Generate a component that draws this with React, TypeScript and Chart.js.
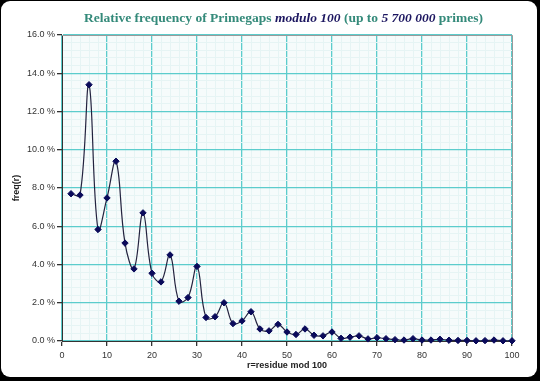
import React, { useEffect, useRef } from "react";
import { Chart, registerables } from "chart.js";

Chart.register(...registerables);

const residues = [
  2, 4, 6, 8, 10, 12, 14, 16, 18, 20, 22, 24, 26, 28, 30, 32, 34, 36, 38, 40,
  42, 44, 46, 48, 50, 52, 54, 56, 58, 60, 62, 64, 66, 68, 70, 72, 74, 76, 78, 80,
  82, 84, 86, 88, 90, 92, 94, 96, 98, 100,
];
const freqPercent = [
  7.7, 7.63, 13.4, 5.83, 7.48, 9.4, 5.12, 3.77, 6.7, 3.54, 3.09, 4.5, 2.08, 2.27, 3.9, 1.23, 1.27, 2.0, 0.91, 1.05,
  1.53, 0.63, 0.53, 0.87, 0.47, 0.34, 0.63, 0.3, 0.27, 0.47, 0.14, 0.2, 0.27, 0.11, 0.17, 0.12, 0.07, 0.05, 0.12, 0.05,
  0.05, 0.09, 0.04, 0.03, 0.03, 0.01, 0.02, 0.05, 0.01, 0.01,
];
const xMin = 0;
const xMax = 100;
const xMajorStep = 10;
const xMinorStep = 2;
const yMin = 0;
const yMax = 16;
const yMajorStep = 2;
const yMinorStep = 0.4;
const xAxisTitle = "r=residue mod 100";
const yAxisTitle = "freq(r)";

const isMajor = (v: number, step: number) => Math.abs(v / step - Math.round(v / step)) < 1e-6;

export default function App() {
  const ref = useRef<HTMLCanvasElement>(null);

  useEffect(() => {
    document.body.style.margin = "0";
    document.body.style.background = "#000";
    const canvas = ref.current;
    if (!canvas) return;

    const plotBg = {
      id: "plotBg",
      beforeDraw(chart: any) {
        const { ctx, chartArea } = chart;
        const { left, top, right, bottom } = chartArea;
        ctx.save();
        ctx.fillStyle = "#f6fbfb";
        ctx.fillRect(left, top, right - left, bottom - top);
        ctx.restore();
      },
      beforeDatasetsDraw(chart: any) {
        const { ctx, chartArea } = chart;
        const { left, top, right, bottom } = chartArea;
        ctx.save();
        ctx.strokeStyle = "#9a9a9a";
        ctx.lineWidth = 1;
        ctx.beginPath();
        ctx.moveTo(left, top + 0.5);
        ctx.lineTo(right + 0.5, top + 0.5);
        ctx.lineTo(right + 0.5, bottom);
        ctx.stroke();
        ctx.restore();
      },
    };

    const tickFont = { family: "'Liberation Sans', Arial, sans-serif", size: 9 };
    const titleFont = { family: "'Liberation Sans', Arial, sans-serif", size: 9, weight: "bold" as const };

    const chart = new Chart(canvas, {
      type: "line",
      data: {
        datasets: [
          {
            data: residues.map((r, i) => ({ x: r, y: freqPercent[i] })),
            borderColor: "#23233f",
            borderWidth: 1.2,
            backgroundColor: "#0a0a5a",
            pointBackgroundColor: "#0a0a5a",
            pointBorderColor: "#0a0a5a",
            pointStyle: "rectRot",
            pointRadius: 3.2,
            pointBorderWidth: 1,
            tension: 0.4,
            clip: false as any,
            fill: false,
          },
        ],
      },
      plugins: [plotBg],
      options: {
        animation: false,
        responsive: false,
        events: [],
        layout: { padding: { top: 35, right: 28, bottom: 0, left: 0 } },
        plugins: { legend: { display: false }, tooltip: { enabled: false }, title: { display: false } },
        scales: {
          x: {
            type: "linear",
            min: xMin,
            max: xMax,
            afterFit: (s: any) => {
              s.height = 40;
            },
            border: { color: "#333", width: 1 },
            grid: {
              color: (c: any) => (isMajor(c.tick?.value ?? 0, xMajorStep) ? "#5ccccc" : "#e6f4f4"),
              lineWidth: (c: any) => (isMajor(c.tick?.value ?? 0, xMajorStep) ? 1.3 : 1),
              tickColor: (c: any) => (isMajor(c.tick?.value ?? 0, xMajorStep) ? "#333" : "rgba(0,0,0,0)"),
              tickLength: 5,
            },
            ticks: {
              stepSize: xMinorStep,
              autoSkip: false,
              maxRotation: 0,
              padding: 4,
              color: "#333",
              font: tickFont,
              callback: (v: any) => (isMajor(Number(v), xMajorStep) ? String(v) : ""),
            },
            title: {
              display: true,
              text: xAxisTitle,
              color: "#222",
              font: titleFont,
              padding: { top: 0, bottom: 10 },
            },
          },
          y: {
            type: "linear",
            min: yMin,
            max: yMax,
            afterFit: (s: any) => {
              s.width = 62;
            },
            border: { color: "#333", width: 1 },
            grid: {
              color: (c: any) => (isMajor(c.tick?.value ?? 0, yMajorStep) ? "#5ccccc" : "#e6f4f4"),
              lineWidth: (c: any) => (isMajor(c.tick?.value ?? 0, yMajorStep) ? 1.3 : 1),
              tickColor: (c: any) => (isMajor(c.tick?.value ?? 0, yMajorStep) ? "#333" : "rgba(0,0,0,0)"),
              tickLength: 5,
            },
            ticks: {
              stepSize: yMinorStep,
              autoSkip: false,
              padding: 2,
              color: "#333",
              font: tickFont,
              callback: (v: any) => (isMajor(Number(v), yMajorStep) ? Number(v).toFixed(1) + " %" : ""),
            },
            title: {
              display: true,
              text: yAxisTitle,
              color: "#222",
              font: titleFont,
              padding: { top: 11, bottom: 0 },
            },
          },
        },
      },
    });
    return () => chart.destroy();
  }, []);

  const teal = "#348a7a";
  const navy = "#1c1660";
  return (
    <div style={{ position: "relative", width: 540, height: 381, background: "#000", overflow: "hidden" }}>
      <div
        style={{
          position: "absolute",
          left: 1,
          top: 1,
          width: 536,
          height: 376,
          background: "#fff",
          borderRadius: 9,
        }}
      />
      <canvas ref={ref} width={540} height={381} style={{ position: "absolute", left: 0, top: 0, width: 540, height: 381 }} />
      <div
        style={{
          position: "absolute",
          left: 0,
          width: 567,
          top: 9,
          textAlign: "center",
          fontFamily: "'Liberation Serif', 'Times New Roman', serif",
          fontSize: 13.5,
          fontWeight: "bold",
          lineHeight: "18px",
          color: teal,
          whiteSpace: "nowrap",
        }}
      >
        Relative frequency of Primegaps <i style={{ color: navy }}>modulo 100</i> (up to{" "}
        <i style={{ color: navy }}>5 700 000</i> primes)
      </div>
    </div>
  );
}
